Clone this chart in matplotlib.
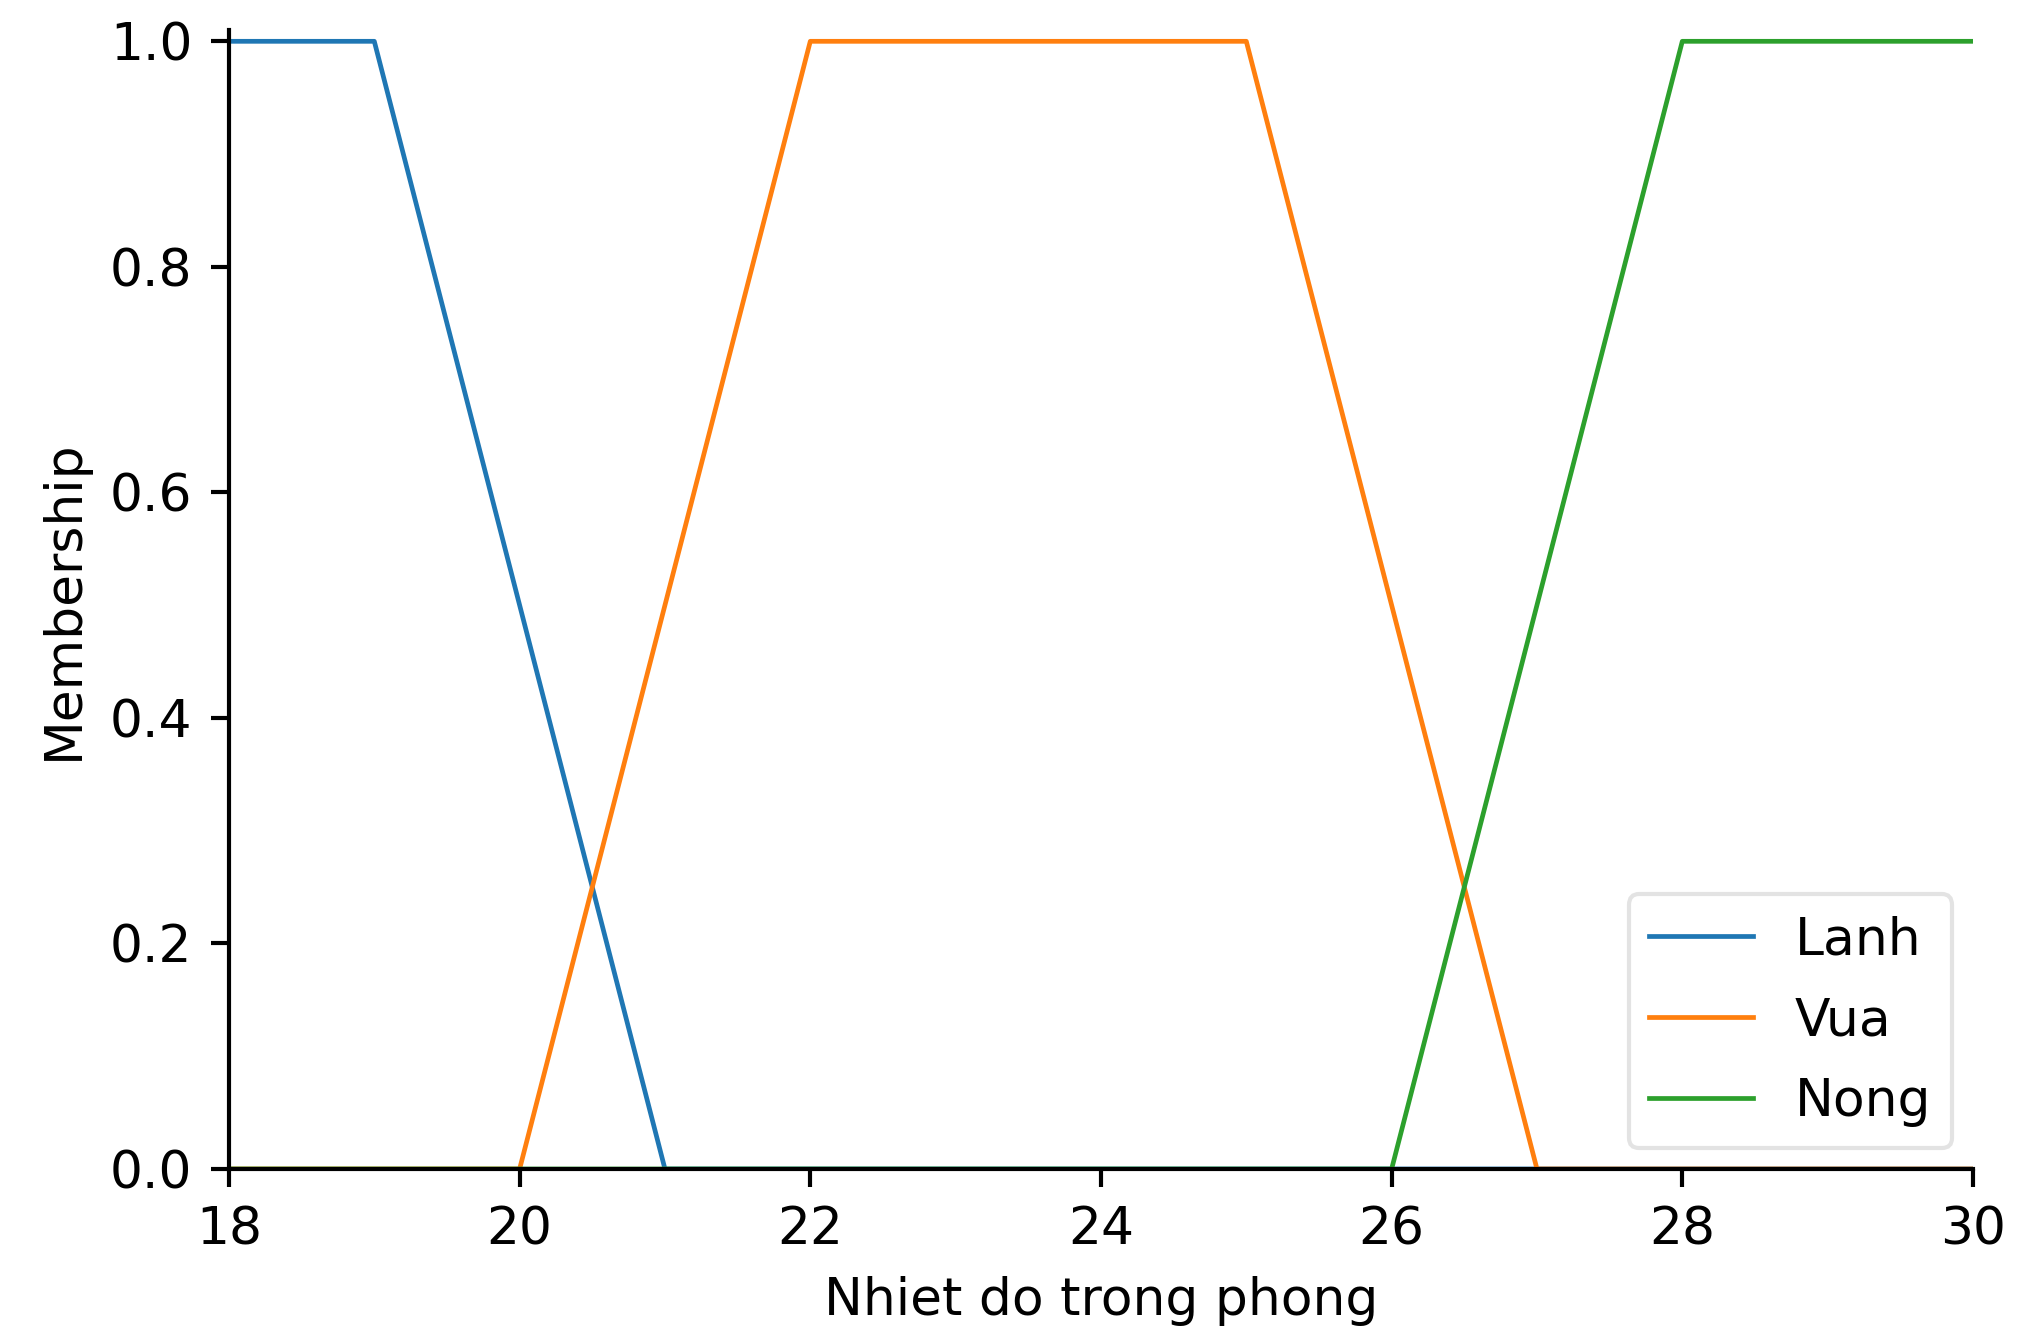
import numpy as np
import matplotlib
matplotlib.use("Agg")
import matplotlib.pyplot as plt

# universe and trapezoid membership points (x, membership)
lanh_x = [18, 19, 21, 30]
lanh_y = [1.0, 1.0, 0.0, 0.0]
vua_x = [18, 20, 22, 25, 27, 30]
vua_y = [0.0, 0.0, 1.0, 1.0, 0.0, 0.0]
nong_x = [18, 26, 28, 30]
nong_y = [0.0, 0.0, 1.0, 1.0]
labels = ["Lanh", "Vua", "Nong"]

s = 3.74  # scale from the original small figure
fig = plt.figure(figsize=(20.19, 13.29), dpi=100)
ax = fig.add_axes([0.1134, 0.1204, 0.8638, 0.857])

ax.plot(lanh_x, lanh_y, color="#1f77b4", lw=3.4, label=labels[0])
ax.plot(vua_x, vua_y, color="#ff7f0e", lw=3.4, label=labels[1])
ax.plot(nong_x, nong_y, color="#2ca02c", lw=3.4, label=labels[2])

ax.set_xlim(18, 30)
ax.set_ylim(0, 1.01)
ax.set_yticks([0.0, 0.2, 0.4, 0.6, 0.8, 1.0])
ax.set_xticks([18, 20, 22, 24, 26, 28, 30])

ax.spines["top"].set_visible(False)
ax.spines["right"].set_visible(False)
for sp in ["left", "bottom"]:
    ax.spines[sp].set_linewidth(0.8 * s)

ax.tick_params(labelsize=10 * s, width=0.8 * s, length=3.5 * s, pad=3.5 * s)
ax.set_xlabel("Nhiet do trong phong", fontsize=10 * s, labelpad=4 * s)
ax.set_ylabel("Membership", fontsize=10 * s, labelpad=4 * s)

leg = ax.legend(loc="lower right", fontsize=10 * s, handlelength=2.0,
                borderpad=0.4, labelspacing=0.6, handletextpad=0.8,
                borderaxespad=0.4, framealpha=0.8)
leg.get_frame().set_linewidth(0.8 * s)
leg.get_frame().set_edgecolor("#dddddd")

fig.savefig("out.png", dpi=100)
